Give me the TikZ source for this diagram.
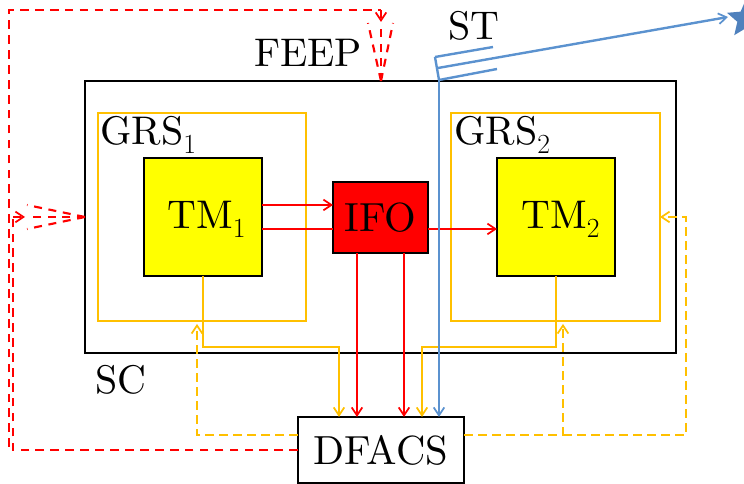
\documentclass[tikz,border=0pt]{standalone}
\usepackage{fontspec}
\setmainfont{lmroman10-regular}[Extension=.otf]
\usetikzlibrary{arrows.meta,shapes.geometric}
\definecolor{gold}{RGB}{255,192,0}
\definecolor{skyb}{RGB}{91,146,207}
\definecolor{starb}{RGB}{79,129,189}
\definecolor{pureyellow}{RGB}{255,255,0}
\definecolor{purered}{RGB}{255,0,0}
\newcommand{\lowsub}[1]{$_{\lower2.5pt\hbox{$\scriptstyle #1$}}$}
\tikzset{
  x=0.75pt,y=-0.75pt,
  lbl/.style={inner sep=0pt,font=\fontsize{30}{36}\selectfont},
  box/.style={draw=black,line width=1.7pt,inner sep=0pt,outer sep=0pt,anchor=north west,font=\fontsize{30.5}{36}\selectfont},
  tip/.style={-{Straight Barb[length=6pt,width=8pt,line width=1.3pt]}},
  goldl/.style={draw=gold,line width=1.7pt},
  redl/.style={draw=purered,line width=1.5pt},
  bluel/.style={draw=skyb,line width=2.1pt},
  bluethin/.style={draw=skyb,line width=1.8pt},
  reddash/.style={draw=purered,line width=1.9pt,dash pattern=on 6.5pt off 4.7pt},
  golddash/.style={draw=gold,line width=1.7pt,dash pattern=on 7pt off 3.5pt},
  cone/.style={draw=purered,line width=1.6pt,dash pattern=on 6pt off 5pt},
}
\begin{document}
\begin{tikzpicture}
\useasboundingbox (0,0) rectangle (744,484);
\node[box,minimum width=443.25pt,minimum height=204pt] (sc) at (85,81) {};
\node[box,draw=gold,minimum width=156pt,minimum height=156pt] (g1) at (98,113) {};
\node[box,draw=gold,minimum width=156.75pt,minimum height=156pt] (g2) at (451,113) {};
\node[box,fill=pureyellow,minimum width=88.5pt,minimum height=88.5pt] (tm1) at (144,158) {};
\node[box,fill=pureyellow,minimum width=88.5pt,minimum height=88.5pt] (tm2) at (497,158) {};
\node[box,fill=purered,minimum width=71.25pt,minimum height=53.25pt] (ifo) at (333,182) {IFO};
\node[box,fill=white,minimum width=124.5pt,minimum height=49.5pt] (dfacs) at (298,417) {DFACS};
\node[lbl,anchor=base west] (tm1l) at (167,229) {TM\lowsub{1}};
\node[lbl,anchor=base west] (tm2l) at (521,229) {TM\lowsub{2}};
\node[lbl,anchor=base west] (grs1l) at (100,145) {GRS\lowsub{1}};
\node[lbl,anchor=base west] (grs2l) at (454,145) {GRS\lowsub{2}};
\node[lbl] (feep) at (308,53) {FEEP};
\node[lbl] (st) at (474,26) {ST};
\node[lbl] (scl) at (121,380) {SC};
\node[star,star points=5,star point ratio=2.2,fill=starb,inner sep=0pt,minimum size=30pt] (star) at (746,19) {};
\coordinate (fa) at (381,81);
\coordinate (la) at (85,217);
\coordinate (t1) at (381,10);
\coordinate (t2) at (9,10);
\coordinate (b1) at (13,450);
\coordinate (b2) at (13,217);
\coordinate (b3) at (9,447);
% red signal arrows
\draw[redl,tip] (tm1.east|-0,205) -- (ifo.west|-0,205);
\draw[redl] (tm1.east|-0,229) -- (ifo.west|-0,229);
\draw[redl,tip] (ifo.east|-0,229) -- (tm2.west|-0,229);
\draw[redl,tip] (357,253) -- (357,417);
\draw[redl,tip] (404,253) -- (404,417);
% gold lines
\draw[goldl,tip] (203,276) -- (203,347) -- (339,347) -- (339,417);
\draw[goldl,tip] (556,276) -- (556,347) -- (422,347) -- (422,417);
\draw[golddash,tip] (298,435) -- (197,435) -- (197,324);
\draw[golddash,tip] (464,435) -- (563,435) -- (563,324);
\draw[golddash,tip] (563,435) -- (686,435) -- (686,217) -- (660,217);
% star tracker
\draw[bluel,tip] (439,80) -- (439,417);
\draw[bluethin] (435,57) -- (493,47);
\draw[bluethin] (439,80) -- (497,69);
\draw[bluethin] (435,57) -- (439,80);
\draw[bluethin,tip] (438,68) -- (728,17);
% red dashed
\draw[reddash] (dfacs.west|-0,450) -- (b1) -- (b2);
\draw[reddash] (b3) -- (t2) -- (t1);
\draw[cone,tip] (t1) -- (381,22);
\draw[cone,tip] (b2) -- (25,217);
\draw[cone] (la) -- (27,205);
\draw[cone] (la) -- (27,217);
\draw[cone] (la) -- (27,229);
\draw[cone] (fa) -- (368,23);
\draw[cone] (fa) -- (381,23);
\draw[cone] (fa) -- (393,23);
\end{tikzpicture}
\end{document}
